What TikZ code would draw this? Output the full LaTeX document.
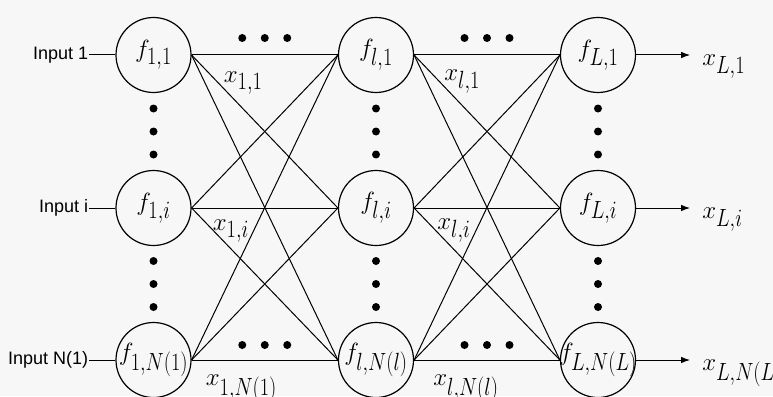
\documentclass[tikz,border=0pt]{standalone}
\usepackage{fontspec}
\setsansfont{Liberation Sans}
\usetikzlibrary{positioning, calc, arrows.meta}
\DeclareMathSizes{34}{34}{24}{18}
\DeclareMathSizes{35}{35}{25}{18}

% letter with a lowered, slightly narrow index
\newcommand{\vsub}[2]{#1_{\raisebox{-3pt}{\scalebox{0.82}[1]{$\scriptstyle #2$}}}}

\begin{document}
\begin{tikzpicture}[x=1pt, y=-1pt, >={Latex[length=9pt,width=6.5pt]},
    neuron/.style={draw, circle, minimum size=75pt, inner sep=0pt, line width=1.2pt, font=\fontsize{35}{40}\selectfont},
    weight/.style={line width=1pt},
    inlab/.style={font=\sffamily\fontsize{18}{20}\selectfont, anchor=east, inner sep=1pt},
    xlab/.style={anchor=base west, inner sep=0pt, font=\fontsize{34}{40}\selectfont}]
    \fill[black!3] (0,0) rectangle (773,396);
    \useasboundingbox (0,0) rectangle (773,396);

    % neurons, one column per layer
    \foreach \c/\cx in {1/153.5, l/376, L/598}{
      \foreach \r/\ry/\s in {1/55/1, i/208/i, n/360/N(\c)}{
        \node[neuron] (f-\c-\r) at (\cx,\ry) {\makebox[0pt]{$\vsub{f}{\c,\s}$}};
      }
    }

    % full connections between layers
    \foreach \a in {1,i,n}{
      \foreach \b in {1,i,n}{
        \draw[weight] (f-1-\a.east) -- (f-l-\b.west);
        \draw[weight] (f-l-\a.east) -- (f-L-\b.west);
      }
    }

    % inputs
    \foreach \r/\t in {1/1, i/i, n/N(1)}{
      \node[inlab] (in-\r) at ($(f-1-\r.west)+(-26,0)$) {Input \t};
      \draw[weight] (in-\r.east) -- (f-1-\r.west);
    }

    % outputs
    \foreach \r/\s in {1/1, i/i, n/N(L)}{
      \coordinate (o-\r) at ($(f-L-\r.east)+(54,0)$);
      \draw[weight,->] (f-L-\r.east) -- (o-\r);
      \node[xlab] (x-L-\r) at ($(o-\r)+(12,10)$) {$\vsub{x}{L,\s}$};
    }

    % signals on the wires
    \node[xlab] (x-1-1) at ($(f-1-1.east)+(32,27)$) {$\vsub{x}{1,1}$};
    \node[xlab] (x-1-i) at ($(f-1-i.east)+(21,22)$) {$\vsub{x}{1,i}$};
    \node[xlab] (x-1-n) at ($(f-1-n.east)+(14,25)$) {$\vsub{x}{1,N(1)}$};
    \node[xlab] (x-l-1) at ($(f-l-1.east)+(30,25)$) {$\vsub{x}{l,1}$};
    \node[xlab] (x-l-i) at ($(f-l-i.east)+(23,21)$) {$\vsub{x}{l,i}$};
    \node[xlab] (x-l-n) at ($(f-l-n.east)+(19,25)$) {$\vsub{x}{l,N(l)}$};

    % dots
    \foreach \c in {1,l,L}{
      \foreach \dy in {-23,0,23}{
        \fill ($(f-\c-1)!0.5!(f-\c-i)+(0,\dy)$) circle (4pt);
        \fill ($(f-\c-i)!0.5!(f-\c-n)+(0,\dy)$) circle (4pt);
      }
    }
    \foreach \p/\q in {1/l, l/L}{
      \foreach \dx in {-22.5,0,22.5}{
        \fill ($(f-\p-1.east)!0.5!(f-\q-1.west)+(\dx,-17)$) circle (4pt);
        \fill ($(f-\p-n.east)!0.5!(f-\q-n.west)+(\dx,-15)$) circle (4pt);
      }
    }
\end{tikzpicture}
\end{document}
